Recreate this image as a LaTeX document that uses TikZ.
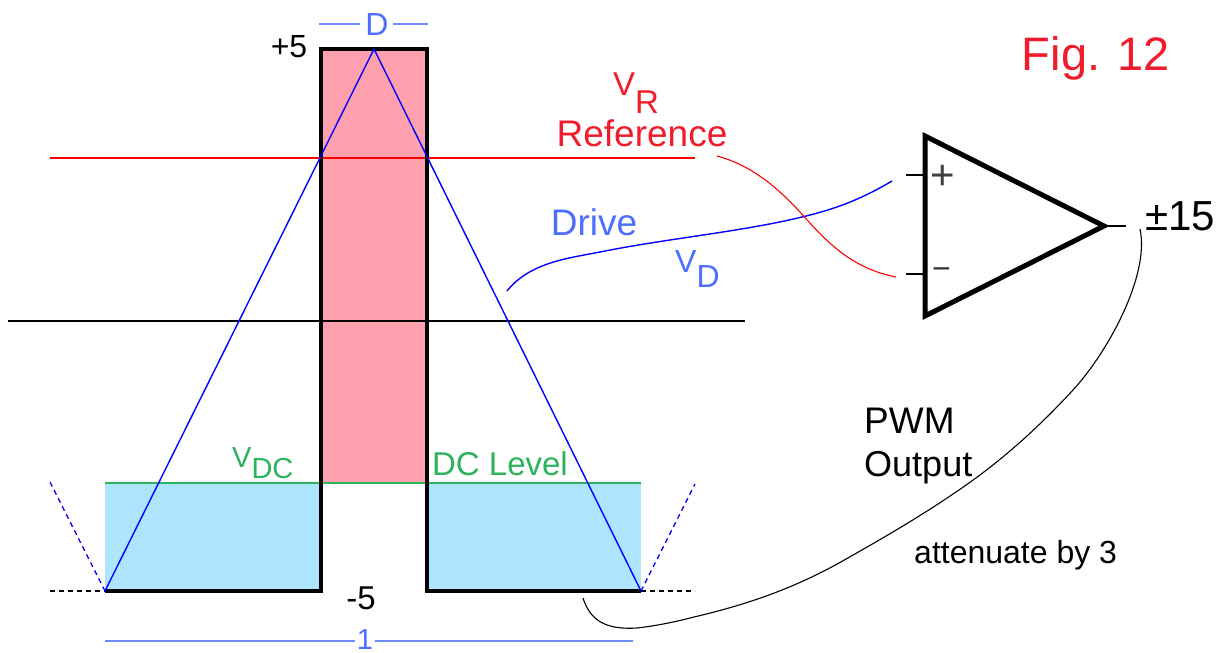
\documentclass[tikz,border=0pt]{standalone}
\usepackage{fontspec}
\setmainfont{Liberation Sans}
\definecolor{pulsepink}{HTML}{FFA0AE}
\definecolor{dcblue}{HTML}{ADE5FF}
\definecolor{dcgreen}{HTML}{2DB35C}
\definecolor{drivelabel}{HTML}{4D6FFF}
\definecolor{dimline}{HTML}{6E8CFF}
\definecolor{refred}{HTML}{F01C2C}
\tikzset{
  lbl/.style={inner sep=0pt, font=\fontsize{37}{40}\selectfont},
  small lbl/.style={inner sep=0pt, font=\fontsize{32}{34}\selectfont},
  dashes/.style={line width=1.3pt, dash pattern=on 5pt off 4pt},
  stub/.style={line width=2.4pt}
}
\begin{document}
\begin{tikzpicture}[x=1pt, y=-1pt]
  \useasboundingbox (0, 0) rectangle (1226, 653);
  % fills
  \fill[pulsepink] (321, 49) rectangle (427, 483);
  \fill[dcblue] (105, 483) rectangle (321, 591);
  \fill[dcblue] (427, 483) rectangle (641, 591);
  % levels
  \draw[line width=1.5pt, red] (50, 158) -- (695, 158);
  \draw[line width=1.2pt] (8, 321) -- (745, 321);
  \draw[line width=2pt, dcgreen] (105, 483) -- (641, 483);
  % waveform
  \coordinate (triL) at (105, 591);
  \coordinate (triT) at (374, 49);
  \coordinate (triR) at (641, 591);
  \draw[line width=3.8pt, line join=miter] (triL) -- (321, 591) -- (321, 49) -- (427, 49) -- (427, 591) -- (triR);
  \draw[line width=1.4pt, blue] (triL) -- (triT) -- (triR);
  \coordinate (dashLo) at (50, 591);
  \coordinate (dashRo) at (695, 591);
  \coordinate (dashLu) at (50, 482);
  \coordinate (dashRu) at (695, 484);
  \draw[dashes] (dashLo) -- (triL);
  \draw[dashes] (triR) -- (dashRo);
  \draw[dashes, blue] (triL) -- (dashLu);
  \draw[dashes, blue] (triR) -- (dashRu);
  % widths
  \node[small lbl, text=drivelabel] (dLabel) at (377, 24) {D};
  \node[small lbl, text=drivelabel, font=\fontsize{29}{32}\selectfont] (oneLabel) at (365, 640) {1};
  \draw[line width=1.2pt, dimline] (319, 24) -- (360, 24);
  \draw[line width=1.2pt, dimline] (393, 24) -- (428, 24);
  \draw[line width=1.2pt, dimline] (105, 641) -- (355, 641);
  \draw[line width=1.2pt, dimline] (375, 641) -- (633, 641);
  % op amp
  \coordinate (ampA) at (925, 136);
  \coordinate (ampB) at (925, 316);
  \coordinate (ampOut) at (1104, 226);
  \draw[line width=5pt, line join=miter] (ampA) -- (ampOut) -- (ampB) -- cycle;
  \foreach \y in {175, 274}
    \draw[stub] (906, \y) -- (925, \y);
  \coordinate (outEnd) at (1126, 226);
  \draw[stub] (ampOut) -- (outEnd);
  \node[lbl, text=black!75, font=\fontsize{42}{44}\selectfont] (ampPlus) at (943, 177) {+};
  \node[lbl, text=black!80, font=\fontsize{32}{34}\selectfont] (ampMinus) at (941.5, 274) {−};
  % wires
  \coordinate (driveA) at (507, 291);
  \coordinate (driveB) at (892, 181);
  \coordinate (refA) at (717, 156);
  \coordinate (refB) at (896, 277);
  \coordinate (pwmA) at (1140, 229);
  \coordinate (pwmB) at (583, 598);
  \draw[line width=1.4pt, blue] (driveA) .. controls (530, 262) and (570, 258) .. (600, 252) .. controls (670, 238) and (740, 232) .. (802, 217) .. controls (840, 208) and (865, 197) .. (driveB);
  \draw[line width=1.1pt, red] (refA) .. controls (750, 165) and (775, 185) .. (800, 212) .. controls (825, 240) and (850, 268) .. (refB);
  \draw[line width=1.1pt] (pwmA) .. controls (1150, 275) and (1108, 352) .. (1073, 390) .. controls (1038, 428) and (1004, 458) .. (969, 483) .. controls (925, 514) and (885, 537) .. (839, 563) .. controls (790, 590) and (745, 605) .. (694, 617) .. controls (675, 622) and (655, 626) .. (637, 628) .. controls (605, 630) and (590, 620) .. (pwmB);
  % labels
  \node[small lbl] (plusFive) at (289, 47) {+5};
  \node[small lbl, font=\fontsize{33}{36}\selectfont] (minusFive) at (361, 598) {-5};
  \node[inner sep=0pt, font=\fontsize{47}{50}\selectfont, text=refred] (figLabel) at (1096, 58) {Fig. 12};
  \node[small lbl, anchor=base west, text=refred, font=\fontsize{33}{36}\selectfont] (vrLabel) at (613, 95) {V\raisebox{-18pt}{R}};
  \node[lbl, text=refred] (refLabel) at (642, 133) {Reference};
  \node[lbl, text=drivelabel] (driveLabel) at (594, 222) {Drive};
  \node[small lbl, anchor=base west, text=drivelabel] (vdLabel) at (675, 272) {V\raisebox{-15pt}{D}};
  \node[small lbl, anchor=base west, text=dcgreen, font=\fontsize{29}{32}\selectfont] (vdcLabel) at (232, 467) {V\raisebox{-11pt}{DC}};
  \node[lbl, text=dcgreen, font=\fontsize{33}{36}\selectfont] (dcLabel) at (500, 464) {DC Level};
  \node[inner sep=0pt, font=\fontsize{42}{44}\selectfont, anchor=base east] (rail) at (1215, 230) {±15};
  \node[lbl, anchor=base west] (pwmLabel) at (864, 433) {PWM};
  \node[lbl, anchor=base west, font=\fontsize{36}{40}\selectfont] (outLabel) at (864, 476) {Output};
  \node[inner sep=0pt, anchor=base west, font=\fontsize{32}{34}\selectfont] (attLabel) at (914, 563) {attenuate by 3};
\end{tikzpicture}
\end{document}
